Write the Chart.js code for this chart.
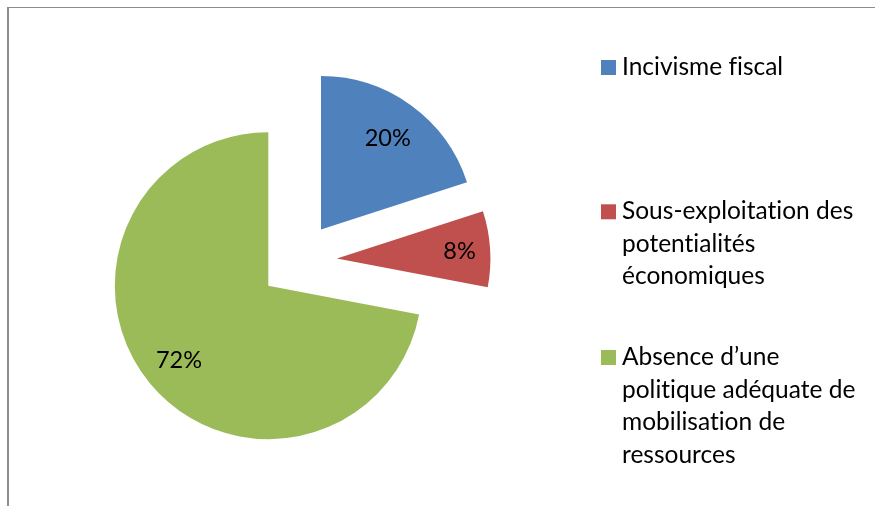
<!DOCTYPE html>
<html><head><meta charset="utf-8">
<script src="https://cdn.jsdelivr.net/npm/chart.js@4/dist/chart.umd.min.js"></script>
<style>
html,body{margin:0;padding:0;background:#fff;}
#wrap{position:relative;width:875px;height:506px;overflow:hidden;}
#frame{position:absolute;left:7px;top:7px;width:900px;height:600px;border-left:2px solid #8c8c8c;border-top:1px solid #8c8c8c;}
canvas{position:absolute;left:0;top:0;font-variant-ligatures:none;text-rendering:optimizeSpeed;}
</style></head><body>
<div id="wrap"><div id="frame"></div><canvas id="c" width="875" height="506"></canvas></div>
<script>
const categories = [
  ['Incivisme fiscal'],
  ['Sous-exploitation des', 'potentialités', 'économiques'],
  ['Absence d’une', 'politique adéquate de', 'mobilisation de', 'ressources']
];
const values = [20, 8, 72];
const sliceColors = ['#4F81BD', '#C0504D', '#9BBB59'];

const FONT_FAMILY = 'Lato, sans-serif';
const LEGEND_FONT_SIZE = 24.5;
const LABEL_FONT_SIZE = 23.5;

const explodePlugin = {
  id: 'explode',
  beforeDatasetDraw(chart, args, opts) {
    const ctx = chart.ctx;
    args.meta.data.forEach(arc => {
      const mid = (arc.startAngle + arc.endAngle) / 2;
      ctx.save();
      ctx.translate(Math.cos(mid) * opts.distance, Math.sin(mid) * opts.distance);
      arc.draw(ctx, chart.chartArea);
      ctx.restore();
    });
    return false;
  }
};

const sliceLabelPlugin = {
  id: 'sliceLabels',
  afterDraw(chart, args, opts) {
    const ctx = chart.ctx;
    const meta = chart.getDatasetMeta(0);
    const data = chart.data.datasets[0].data;
    const total = data.reduce((a, b) => a + b, 0);
    const dist = chart.options.plugins.explode.distance;
    ctx.save();
    ctx.font = LABEL_FONT_SIZE + 'px ' + FONT_FAMILY;
    ctx.fillStyle = '#000';
    ctx.textAlign = 'center';
    ctx.textBaseline = 'alphabetic';
    const capH = ctx.measureText('0').actualBoundingBoxAscent;
    meta.data.forEach((arc, i) => {
      const mid = (arc.startAngle + arc.endAngle) / 2;
      const r = dist + arc.outerRadius * opts.radii[i];
      const txt = Math.round(data[i] / total * 100) + '%';
      ctx.fillText(txt, arc.x + Math.cos(mid) * r, arc.y + Math.sin(mid) * r + capH / 2);
    });
    ctx.restore();
  }
};

const sideLegendPlugin = {
  id: 'sideLegend',
  afterDraw(chart, args, opts) {
    const ctx = chart.ctx;
    const labels = chart.data.labels;
    const colors = chart.data.datasets[0].backgroundColor;
    ctx.save();
    ctx.font = LEGEND_FONT_SIZE + 'px ' + FONT_FAMILY;
    if ('textRendering' in ctx) ctx.textRendering = 'optimizeSpeed';
    ctx.textAlign = 'left';
    ctx.textBaseline = 'alphabetic';
    labels.forEach((lines, i) => {
      const base = opts.baselines[i];
      ctx.fillStyle = colors[i];
      ctx.fillRect(opts.boxX, base - opts.boxSize, opts.boxSize, opts.boxSize);
      ctx.fillStyle = '#000';
      lines.forEach((ln, j) => ctx.fillText(ln, opts.textX, base + j * opts.lineHeight));
    });
    ctx.restore();
  }
};

new Chart(document.getElementById('c'), {
  type: 'pie',
  data: {
    labels: categories,
    datasets: [{
      data: values,
      backgroundColor: sliceColors,
      borderWidth: 0
    }]
  },
  options: {
    responsive: false,
    animation: false,
    radius: 153.5,
    layout: { padding: { left: 0, right: 278.6, top: 16, bottom: 0 } },
    plugins: {
      legend: { display: false },
      tooltip: { enabled: false },
      explode: { distance: 38.8 },
      sliceLabels: { radii: [0.74, 0.80, 0.755] },
      sideLegend: { boxX: 601, boxSize: 15, textX: 622, lineHeight: 32.5, baselines: [75, 219.3, 365] }
    }
  },
  plugins: [explodePlugin, sliceLabelPlugin, sideLegendPlugin]
});
</script>
</body></html>
